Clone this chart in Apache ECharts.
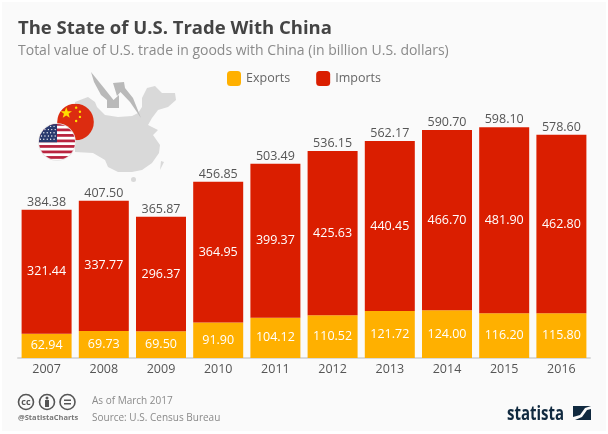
<!DOCTYPE html>
<html lang="en">
<head>
    <meta charset="UTF-8">
    <title>The State of U.S. Trade With China</title>
    <script src="https://cdn.jsdelivr.net/npm/echarts@6/dist/echarts.min.js"></script>
    <style>
        html, body { margin: 0; padding: 0; background: #fff; }
        #fig1 { width: 608px; height: 434px; }
    </style>
</head>
<body>
    <div id="fig1"></div>
    <script>
        let years = ['2007', '2008', '2009', '2010', '2011', '2012', '2013', '2014', '2015', '2016'];
        let exportsValues = [62.94, 69.73, 69.50, 91.90, 104.12, 110.52, 121.72, 124.00, 116.20, 115.80];
        let importsValues = [321.44, 337.77, 296.37, 364.95, 399.37, 425.63, 440.45, 466.70, 481.90, 462.80];
        let totals = [384.38, 407.50, 365.87, 456.85, 503.49, 536.15, 562.17, 590.70, 598.10, 578.60];

        let font = '"Open Sans", sans-serif';

        // 国旗用 svg 图片，圆形裁剪比较方便
        let chinaFlag = 'data:image/svg+xml;utf8,' + encodeURIComponent(
            '<svg xmlns="http://www.w3.org/2000/svg" width="80" height="80" viewBox="0 0 40 40">' +
            '<circle cx="20" cy="20" r="19.8" fill="#dc2c10"/>' +
            '<polygon fill="#ffde00" points="10,4 11.6,8.3 16.2,8.3 12.5,11.1 13.8,15.5 10,12.9 6.2,15.5 7.5,11.1 3.8,8.3 8.4,8.3"/>' +
            '<circle cx="20.7" cy="4.5" r="1.3" fill="#ffde00"/><circle cx="24.8" cy="9" r="1.3" fill="#ffde00"/>' +
            '<circle cx="24.8" cy="14.5" r="1.3" fill="#ffde00"/><circle cx="20.7" cy="19" r="1.3" fill="#ffde00"/></svg>');

        let stripes = '';
        for (let i = 0; i < 7; i++) {
            stripes += '<rect x="0" y="' + (i * 5.8) + '" width="40" height="2.9" fill="#b9243f"/>';
        }
        let stars = '';
        for (let r = 0; r < 5; r++) {
            for (let c = 0; c < 5; c++) {
                stars += '<circle cx="' + (2.5 + c * 3.6 + (r % 2) * 1.2) + '" cy="' + (3.5 + r * 3.4) + '" r="0.7" fill="#fff"/>';
            }
        }
        let usFlag = 'data:image/svg+xml;utf8,' + encodeURIComponent(
            '<svg xmlns="http://www.w3.org/2000/svg" width="80" height="80" viewBox="0 0 40 40">' +
            '<defs><clipPath id="c"><circle cx="20" cy="20" r="19"/></clipPath></defs>' +
            '<circle cx="20" cy="20" r="19.8" fill="#e4e4e4"/>' +
            '<g clip-path="url(#c)"><rect width="40" height="40" fill="#fff"/>' + stripes +
            '<rect width="20" height="20.3" fill="#2a3a6e"/>' + stars + '</g></svg>');

        let fig1 = echarts.init(document.getElementById('fig1'), null, {renderer: 'canvas'});

        let option = {
            animation: false,
            backgroundColor: '#ffffff',
            textStyle: { fontFamily: font },
            title: {
                left: 18,
                top: 19,
                padding: 0,
                text: 'The State of U.S. Trade With China',
                textStyle: { fontFamily: font, fontSize: 18.5, fontWeight: 'bold', color: '#444444' },
                subtext: 'Total value of U.S. trade in goods with China (in billion U.S. dollars)',
                subtextStyle: { fontFamily: font, fontSize: 14, color: '#8a8a8a' },
                itemGap: 6
            },
            legend: {
                left: 227,
                top: 71,
                padding: 0,
                itemWidth: 14,
                itemHeight: 15,
                itemGap: 26,
                icon: 'roundRect',
                textStyle: { fontFamily: font, fontSize: 12.5, color: '#666666' },
                data: ['Exports', 'Imports']
            },
            grid: { left: 18, right: 18, top: 126.4, bottom: 76 },
            xAxis: {
                type: 'category',
                data: years,
                axisLine: { lineStyle: { color: '#d9d9d9', width: 2 } },
                axisTick: { show: false },
                axisLabel: { fontFamily: font, fontSize: 12.5, color: '#555555', margin: 5 }
            },
            yAxis: { type: 'value', min: 0, max: 600, show: false },
            series: [
                {
                    name: 'Exports',
                    type: 'bar',
                    stack: 'trade',
                    barWidth: 50,
                    data: exportsValues,
                    itemStyle: { color: '#ffb000' },
                    label: {
                        show: true,
                        position: 'inside',
                        fontFamily: font,
                        fontSize: 12.5,
                        color: '#ffffff',
                        formatter: (p) => p.value.toFixed(2)
                    }
                },
                {
                    name: 'Imports',
                    type: 'bar',
                    stack: 'trade',
                    barWidth: 50,
                    data: importsValues,
                    itemStyle: { color: '#da1e00' },
                    label: {
                        show: true,
                        position: 'inside',
                        fontFamily: font,
                        fontSize: 12.5,
                        color: '#ffffff',
                        formatter: (p) => p.value.toFixed(2)
                    }
                },
                {
                    // 透明系列，只用来显示总数
                    name: 'Total',
                    type: 'bar',
                    stack: 'trade',
                    barWidth: 50,
                    silent: true,
                    data: totals.map(() => 0),
                    itemStyle: { color: 'transparent' },
                    label: {
                        show: true,
                        position: 'top',
                        distance: 1,
                        fontFamily: font,
                        fontSize: 12.5,
                        color: '#555555',
                        formatter: (p) => totals[p.dataIndex].toFixed(2)
                    }
                }
            ],
            graphic: [
                // 卡片背景
                { type: 'rect', z: -10, shape: { x: 2, y: 2, width: 604, height: 429 }, style: { fill: '#fafafa' } },
                // 中国地图
                { type: 'polygon', z: 1, shape: { points: [
                    [75, 102], [80, 100], [88, 97], [95, 102], [97, 107], [105, 115], [118, 117], [132, 116],
                    [138, 113], [142, 107], [142, 98], [147, 88], [155, 86], [162, 93], [175, 93], [176, 100],
                    [168, 107], [158, 110], [152, 118], [148, 125], [158, 130], [153, 135], [160, 145], [159, 153],
                    [152, 163], [142, 170], [132, 172], [118, 172], [108, 167], [105, 160], [93, 153], [75, 152]
                ] }, style: { fill: '#d9d9d9' } },
                { type: 'circle', z: 1, shape: { cx: 133.5, cy: 179.5, r: 2.5 }, style: { fill: '#d9d9d9' } },
                { type: 'polygon', z: 1, shape: { points: [[161, 161], [164, 162], [160, 170]] }, style: { fill: '#d9d9d9' } },
                // 箭头
                { type: 'polygon', z: 2, shape: { points: [
                    [91, 72], [94, 82], [101, 95], [107, 100], [107, 108], [119, 108], [119, 95], [113.5, 100], [104, 88]
                ] }, style: { fill: '#b9b9b9' } },
                { type: 'polygon', z: 2, shape: { points: [
                    [141, 118], [133, 98], [125, 88], [124, 82], [113, 83], [117, 96], [120.5, 92], [130, 102]
                ] }, style: { fill: '#b9b9b9' } },
                // 国旗
                { type: 'image', z: 3, style: { image: chinaFlag, x: 57, y: 103.5, width: 37, height: 37 } },
                { type: 'image', z: 4, style: { image: usFlag, x: 38, y: 123, width: 38, height: 38 } },
                // 页脚图标
                { type: 'circle', shape: { cx: 26, cy: 402, r: 7.5 }, style: { fill: 'none', stroke: '#555', lineWidth: 1.6 } },
                { type: 'text', style: { x: 26, y: 402, text: 'cc', align: 'center', verticalAlign: 'middle', font: 'bold 9px ' + font, fill: '#555' } },
                { type: 'circle', shape: { cx: 47, cy: 402, r: 7.5 }, style: { fill: 'none', stroke: '#555', lineWidth: 1.6 } },
                { type: 'circle', shape: { cx: 47, cy: 398, r: 1.5 }, style: { fill: '#555' } },
                { type: 'rect', shape: { x: 45, y: 400, width: 4, height: 7 }, style: { fill: '#555' } },
                { type: 'circle', shape: { cx: 67.5, cy: 402, r: 7.5 }, style: { fill: 'none', stroke: '#555', lineWidth: 1.6 } },
                { type: 'rect', shape: { x: 64, y: 399.5, width: 7, height: 1.5 }, style: { fill: '#555' } },
                { type: 'rect', shape: { x: 64, y: 403, width: 7, height: 1.5 }, style: { fill: '#555' } },
                { type: 'text', style: { x: 18, y: 418, text: '@StatistaCharts', verticalAlign: 'middle', font: 'bold 7.5px ' + font, fill: '#777' } },
                { type: 'text', style: { x: 92, y: 401, text: 'As of March 2017', verticalAlign: 'middle', font: '10px ' + font, fill: '#8a8a8a' } },
                { type: 'text', style: { x: 92, y: 418, text: 'Source: U.S. Census Bureau', verticalAlign: 'middle', font: '10px ' + font, fill: '#8a8a8a' } },
                // statista 标志，字体压窄
                { type: 'text', x: 507, y: 414, scaleX: 0.75, style: { x: 0, y: 0, text: 'statista', verticalAlign: 'middle', font: 'bold 20px ' + font, fill: '#10293f' } },
                { type: 'rect', shape: { x: 573, y: 406, width: 18, height: 14 }, style: { fill: '#10293f' } },
                { type: 'polygon', shape: { points: [[573, 417], [580, 415], [585, 408], [591, 406], [591, 409], [587, 410], [582, 417], [575, 420], [573, 420]] }, style: { fill: '#fafafa' } }
            ]
        };

        fig1.setOption(option);
    </script>
</body>
</html>
